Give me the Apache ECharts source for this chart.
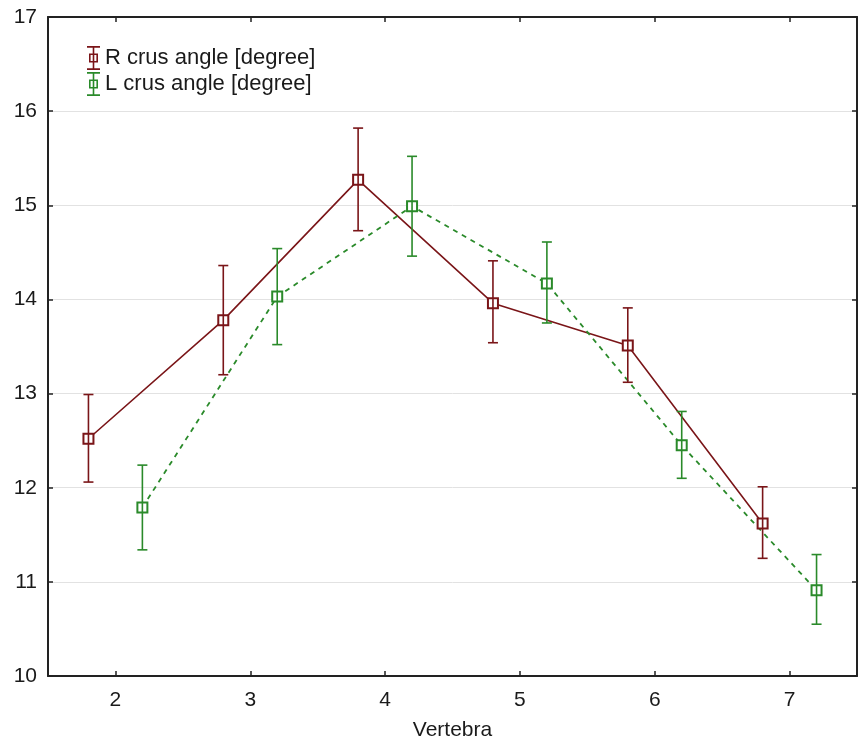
<!DOCTYPE html>
<html>
<head>
<meta charset="utf-8">
<script src="https://cdn.jsdelivr.net/npm/echarts@6/dist/echarts.min.js"></script>
<style>
html,body{margin:0;padding:0;background:#fff;}
#chart{width:858px;height:753px;}
</style>
</head>
<body>
<div id="chart"></div>
<script>
// ---- data ----
var vertebra = [2, 3, 4, 5, 6, 7];
var xTicks = [2, 3, 4, 5, 6, 7];
var rMean = [12.52, 13.78, 15.27, 13.96, 13.51, 11.62];
var rLow  = [12.06, 13.20, 14.73, 13.54, 13.12, 11.25];
var rHigh = [12.99, 14.36, 15.82, 14.41, 13.91, 12.01];
var lMean = [11.79, 14.03, 14.99, 14.17, 12.45, 10.91];
var lLow  = [11.34, 13.52, 14.46, 13.75, 12.10, 10.55];
var lHigh = [12.24, 14.54, 15.52, 14.61, 12.81, 11.29];
var rName = 'R crus angle [degree]';
var lName = 'L crus angle [degree]';

// ---- styling ----
var rColor = '#7a1518';
var lColor = '#2a8a2a';
var shift = 0.2;
var font = 'Liberation Sans, Arial, sans-serif';
var textColor = '#1a1a1a';
var axisColor = '#222';

function pts(vals, off) {
  return vertebra.map(function (v, i) { return [v + off, vals[i]]; });
}
function bars(lo, hi, off) {
  return vertebra.map(function (v, i) { return [v + off, lo[i], hi[i]]; });
}
function errRenderer(color) {
  return function (params, api) {
    var x = api.value(0);
    var top = api.coord([x, api.value(2)]);
    var bot = api.coord([x, api.value(1)]);
    var hw = 5;
    var st = { stroke: color, lineWidth: 1.6, fill: null };
    return {
      type: 'group',
      children: [
        { type: 'line', shape: { x1: top[0], y1: top[1], x2: bot[0], y2: bot[1] }, style: st },
        { type: 'line', shape: { x1: top[0] - hw, y1: top[1], x2: top[0] + hw, y2: top[1] }, style: st },
        { type: 'line', shape: { x1: bot[0] - hw, y1: bot[1], x2: bot[0] + hw, y2: bot[1] }, style: st }
      ]
    };
  };
}

var legendIcon = 'path://M0,0 L13,0 L13,1.8 L0,1.8 Z M5.7,0 L7.3,0 L7.3,24 L5.7,24 Z M0,22.2 L13,22.2 L13,24 L0,24 Z M2,7.5 L11,7.5 L11,16.5 L2,16.5 Z M3.6,9.1 L3.6,14.9 L9.4,14.9 L9.4,9.1 Z';

var chart = echarts.init(document.getElementById('chart'), null, { renderer: 'canvas' });
chart.setOption({
  animation: false,
  backgroundColor: '#fff',
  textStyle: { fontFamily: font },
  grid: { left: 48, right: 1, top: 17, bottom: 77, outerBoundsMode: 'none' },
  legend: {
    orient: 'vertical',
    left: 82,
    top: 41,
    itemWidth: 13,
    itemHeight: 24,
    itemGap: 2,
    icon: legendIcon,
    itemStyle: { borderWidth: 0 },
    textStyle: { fontSize: 22, color: textColor, fontFamily: font, padding: [0, 0, 0, 0] },
    data: [
      { name: rName, itemStyle: { color: rColor, borderWidth: 0 } },
      { name: lName, itemStyle: { color: lColor, borderWidth: 0 } }
    ]
  },
  xAxis: [{
    type: 'value',
    min: 1.5,
    max: 7.5,
    name: 'Vertebra',
    nameLocation: 'middle',
    nameGap: 44,
    nameTextStyle: { fontSize: 21, color: textColor, fontFamily: font },
    axisLine: { show: true, onZero: false, lineStyle: { color: axisColor, width: 2 } },
    axisTick: { show: true, inside: true, length: 5, customValues: xTicks, lineStyle: { color: axisColor, width: 1.5 } },
    axisLabel: { customValues: xTicks, fontSize: 21, color: textColor, margin: 14, fontFamily: font },
    splitLine: { show: false }
  }, {
    type: 'value',
    position: 'top',
    min: 1.5,
    max: 7.5,
    axisLine: { show: true, onZero: false, lineStyle: { color: axisColor, width: 2 } },
    axisTick: { show: true, inside: true, length: 5, customValues: xTicks, lineStyle: { color: axisColor, width: 1.5 } },
    axisLabel: { show: false },
    splitLine: { show: false }
  }],
  yAxis: [{
    type: 'value',
    min: 10,
    max: 17,
    interval: 1,
    axisLine: { show: true, onZero: false, lineStyle: { color: axisColor, width: 2 } },
    axisTick: { show: true, inside: true, length: 5, lineStyle: { color: axisColor, width: 1.5 } },
    axisLabel: { fontSize: 21, color: textColor, margin: 11, fontFamily: font },
    splitLine: { show: true, lineStyle: { color: '#e2e2e2', width: 1 } }
  }, {
    type: 'value',
    position: 'right',
    min: 10,
    max: 17,
    interval: 1,
    axisLine: { show: true, onZero: false, lineStyle: { color: axisColor, width: 2 } },
    axisTick: { show: true, inside: true, length: 5, lineStyle: { color: axisColor, width: 1.5 } },
    axisLabel: { show: false },
    splitLine: { show: false }
  }],
  series: [
    {
      name: rName,
      type: 'line',
      data: pts(rMean, -shift),
      symbol: 'emptyRect',
      symbolSize: 10,
      color: rColor,
      lineStyle: { color: rColor, width: 1.6, type: 'solid' },
      itemStyle: { color: rColor, borderWidth: 1.6 },
      z: 2
    },
    {
      type: 'custom',
      data: bars(rLow, rHigh, -shift),
      encode: { x: 0, y: [1, 2] },
      renderItem: errRenderer(rColor),
      z: 3
    },
    {
      name: lName,
      type: 'line',
      data: pts(lMean, shift),
      symbol: 'emptyRect',
      symbolSize: 10,
      color: lColor,
      lineStyle: { color: lColor, width: 1.8, type: [5, 5] },
      itemStyle: { color: lColor, borderWidth: 1.6 },
      z: 2
    },
    {
      type: 'custom',
      data: bars(lLow, lHigh, shift),
      encode: { x: 0, y: [1, 2] },
      renderItem: errRenderer(lColor),
      z: 3
    }
  ]
});
</script>
</body>
</html>
